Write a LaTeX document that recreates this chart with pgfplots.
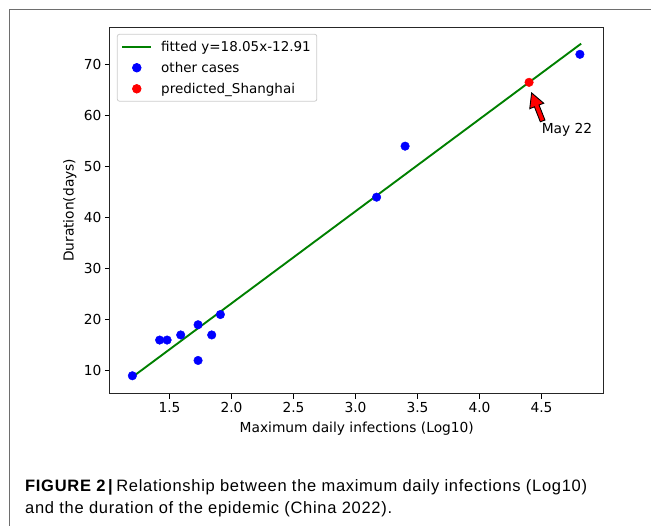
\documentclass[border=0pt]{standalone}
\usepackage{fontspec}
\setmainfont{DejaVu Sans}
\newfontfamily\capfont[LetterSpace=4.3]{Liberation Sans}
\usepackage{pgfplots}
\pgfplotsset{compat=1.18}
\definecolor{mplgreen}{RGB}{0,128,0}
\definecolor{legframe}{RGB}{204,204,204}
\definecolor{framegray}{RGB}{110,110,110}
\pgfplotsset{
    linelegend/.style={legend image code/.code={\draw[##1] (0pt,0pt) -- (29pt,0pt);
        \path (36pt,0pt);}},
    dotlegend/.style={legend image code/.code={\draw[mark repeat=2,mark phase=2,##1]
        plot coordinates {(0pt,0pt)(14.5pt,0pt)(29pt,0pt)};
        \path (36pt,0pt);}},
}

\begin{document}
\begin{tikzpicture}[x=1pt,y=1pt]
\path (0,0) rectangle (651,526);
% outer figure frame
\draw[framegray, line width=0.9pt] (9,0) -- (9,517) -- (651,517);

\begin{axis}[
    at={(110pt,132pt)}, anchor=south west,
    scale only axis,
    width=494pt, height=367pt,
    xmin=1.019, xmax=5.001,
    ymin=5.48, ymax=77.36,
    xtick={1.5,2.0,2.5,3.0,3.5,4.0,4.5},
    ytick={10,20,30,40,50,60,70},
    xticklabel style={/pgf/number format/.cd, fixed, fixed zerofill, precision=1},
    /pgf/number format/assume math mode=true,
    tick label style={font=\fontsize{13.8}{16}\selectfont, black},
    tick align=outside,
    xtick pos=lower, ytick pos=left,
    major tick length=5pt,
    tick style={black, line width=0.8pt},
    axis line style={black!85, line width=0.9pt},
    xlabel={Maximum daily infections (Log10)},
    ylabel={Duration(days)},
    label style={font=\fontsize{13.8}{16}\selectfont},
    xlabel style={at={(axis description cs:0.5,-0.095)}, anchor=center},
    ylabel style={at={(axis description cs:-0.081,0.5)}, anchor=center},
    legend style={at={(0.0142,0.981)}, anchor=north west, draw=legframe,
        rounded corners=2pt, fill=white, line width=0.8pt,
        font=\fontsize{13.5}{16}\selectfont, row sep=5.3pt,
        inner xsep=4pt, inner ysep=4.5pt},
    legend cell align=left,
]
\addplot[mplgreen, line width=1.9pt, linelegend]
    coordinates {(1.20,8.75) (4.82,74.09)};
\addlegendentry{fitted y=18.05x-12.91}

\addplot[only marks, mark=*, mark size=4.3pt, blue, draw=none, fill=blue, dotlegend]
    coordinates {
    (1.20,9) (1.42,16) (1.48,16) (1.59,17) (1.73,19) (1.73,12)
    (1.84,17) (1.91,21) (3.17,44) (3.40,54) (4.81,72)
    };
\addlegendentry{other cases}

\addplot[only marks, mark=*, mark size=4.3pt, red, draw=none, fill=red, dotlegend]
    coordinates {(4.40,66.51)};
\addlegendentry{predicted\_Shanghai}
\end{axis}

% annotation arrow (pixel layout, y measured from bottom)
\filldraw[fill=red, draw=black, line width=0.9pt, line join=miter]
    (532,433) -- (544.1,422.7) -- (539.4,420.9) -- (545.3,405.9)
    -- (540.7,404.1) -- (534.8,419.1) -- (530.1,417.2) -- cycle;
\node[anchor=base west, inner sep=0pt, font=\fontsize{13.8}{16}\selectfont]
    at (542,392) {May 22};

% caption
\node[anchor=base west, inner sep=0pt, font=\capfont\fontsize{16.5}{20}\selectfont]
    at (25,34) {\textbf{FIGURE 2\,|}\,Relationship between the maximum daily infections (Log10)};
\node[anchor=base west, inner sep=0pt, font=\capfont\fontsize{16.5}{20}\selectfont]
    at (25,12) {and the duration of the epidemic (China 2022).};
\end{tikzpicture}
\end{document}
